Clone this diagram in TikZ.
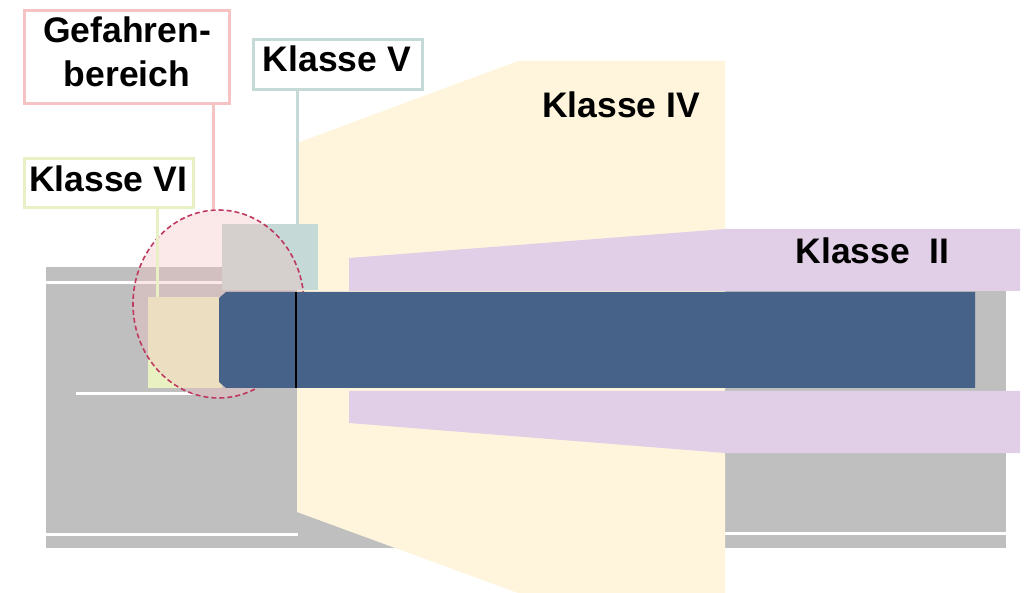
\documentclass[tikz,border=0pt]{standalone}
\usepackage{fontspec}
\setmainfont{Liberation Sans}
\usetikzlibrary{shapes.geometric}

\definecolor{roadgray}{HTML}{BFBFBF}
\definecolor{zoneiv}{HTML}{FEF5DC}
\definecolor{zoneii}{HTML}{E0CFE7}
\definecolor{zonev}{HTML}{C5DAD7}
\definecolor{zonevi}{HTML}{E9F1C3}
\definecolor{dangerpink}{HTML}{F4BFBF}
\definecolor{dangerline}{HTML}{BE3A62}
\definecolor{tagpink}{HTML}{F5C3C3}
\definecolor{tagvi}{HTML}{E9F0C4}
\definecolor{vehicle}{HTML}{476289}

\begin{document}
\begin{tikzpicture}[x=1pt,y=-1pt,
  lbl/.style={font=\fontsize{35.5}{44}\selectfont\bfseries, inner sep=0, anchor=base},
  tagbox/.style={draw=#1, line width=3pt, fill=white, inner sep=0, rectangle},
  pinline/.style={draw=#1, line width=3pt},
  lane/.style={draw=white, line width=3pt},
  area/.style={fill=#1, inner sep=0, rectangle},
]
\useasboundingbox (0,0) rectangle (1028,593);

% road surface with lane markings
\fill[roadgray] (46,267) rectangle (1006,548);
\draw[lane] (46,283) -- (222,283);
\draw[lane] (76,394) -- (193,394);
\draw[lane] (46,534) -- (298,534);
\draw[lane] (725,533) -- (1006,533);

% class IV zone
\fill[zoneiv] (297,143) -- (518,61) -- (725,61) -- (725,593) -- (518,593) -- (297,512) -- cycle;

% class II zone, above and below the vehicle
\fill[zoneii] (349,258) -- (725,229) -- (1020,229) -- (1020,291) -- (349,291) -- cycle;
\fill[zoneii] (349,391) -- (1020,391) -- (1020,453) -- (725,453) -- (349,423) -- cycle;

% class V and class VI areas
\node[area=zonev, minimum width=96, minimum height=66] (k5zone) at (270,257.5) {};
\node[area=zonevi, minimum width=74, minimum height=91] (k6zone) at (185,342.5) {};
\coordinate (k5pin) at (297,225);
\coordinate (k6pin) at (157,297);

% label boxes
\node[tagbox=tagpink, minimum width=205, minimum height=93] (gefbox) at (127,57) {};
\node[tagbox=zonev, minimum width=169, minimum height=50] (k5box) at (338,64.5) {};
\node[tagbox=tagvi, minimum width=169, minimum height=49] (k6box) at (109,183) {};

% danger zone around the front corner
\node[ellipse, draw=dangerline, dash pattern=on 5pt off 3pt, line width=1.6pt,
      fill=dangerpink, fill opacity=0.36, minimum width=171, minimum height=188,
      inner sep=0] (danger) at (218.5,304) {};

% connectors from labels to areas
\draw[pinline=tagpink] (gefbox.south -| danger.93) -- (danger.93);
\draw[pinline=zonev] (k5box.south -| k5pin) -- (k5pin);
\draw[pinline=tagvi] (k6box.south -| k6pin) -- (k6pin);

% vehicle
\fill[vehicle] (219,298) -- (226,292) -- (975,292) -- (975,388) -- (226,388) -- (219,382) -- cycle;
\coordinate (cabtop) at (296,292);
\coordinate (cabbot) at (296,388);
\draw[black, line width=2pt] (cabtop) -- (cabbot);

% texts
\node[lbl] (tgef) at (127,43) {Gefahren-};
\node[lbl] (tber) at (127,87) {bereich};
\node[lbl] (tk5) at (337,72) {Klasse V};
\node[lbl] (tk6) at (108,192) {Klasse VI};
\node[lbl] (tk4) at (621,118) {Klasse IV};
\node[lbl] (tk2) at (872.5,264) {Klasse\ \ II};
\end{tikzpicture}
\end{document}
